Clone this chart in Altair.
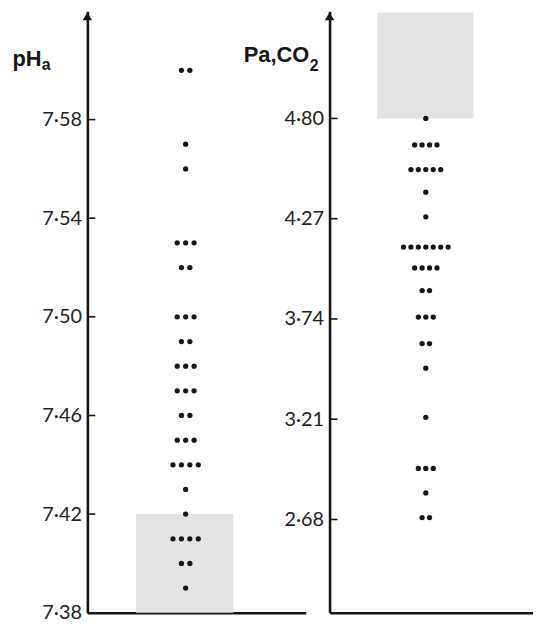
import altair as alt
import pandas as pd

# --- data ---
ph_values = [7.60, 7.57, 7.56, 7.53, 7.52, 7.50, 7.49, 7.48, 7.47, 7.46, 7.45, 7.44, 7.43, 7.42, 7.41, 7.40, 7.39]
ph_counts = [2, 1, 1, 3, 2, 3, 2, 3, 3, 2, 3, 4, 1, 1, 4, 2, 1]
co2_values = [4.80, 4.66, 4.53, 4.41, 4.28, 4.12, 4.01, 3.89, 3.75, 3.61, 3.48, 3.22, 2.95, 2.82, 2.69]
co2_counts = [1, 4, 5, 1, 1, 7, 4, 2, 3, 2, 1, 1, 3, 1, 2]
ph_ticks = [7.38, 7.42, 7.46, 7.50, 7.54, 7.58]
co2_ticks = [2.68, 3.21, 3.74, 4.27, 4.80]
ph_band = [7.38, 7.42]      # shaded normal range
co2_band = [4.80, 5.36]

INK = "#161616"
LABEL_EXPR = "replace(format(datum.value, '.2f'), '.', '·')"
TITLE_FONT = "Liberation Sans"


def dots(values, counts):
    rows = []
    for v, n in zip(values, counts):
        for i in range(n):
            rows.append({"v": v, "off": i - (n - 1) / 2})
    return pd.DataFrame(rows)


def panel(values, counts, ticks, band, band_x, ydom, xdom, width,
          title, tx, ty, sub, sx, sy):
    ys = alt.Scale(domain=ydom, nice=False, zero=False)
    xs = alt.Scale(domain=xdom, nice=False, zero=False)
    yaxis = alt.Axis(
        values=ticks, labelExpr=LABEL_EXPR, ticks=False, grid=False,
        domainColor=INK, domainWidth=2.6, labelFont="Lato", labelFontSize=20,
        labelColor="#222", labelPadding=6, title=title, titleAngle=0,
        titleAlign="left", titleBaseline="alphabetic", titleX=tx, titleY=ty,
        titleFont=TITLE_FONT, titleFontSize=22, titleFontWeight="bold",
        titleColor=INK,
    )
    xaxis = alt.Axis(labels=False, ticks=False, grid=False, title=None,
                     domainColor=INK, domainWidth=2.6)
    band_df = pd.DataFrame({"x1": [band_x[0]], "x2": [band_x[1]],
                            "y1": [band[0]], "y2": [band[1]]})
    shade = alt.Chart(band_df).mark_rect(color="#e3e3e3").encode(
        x=alt.X("x1:Q", scale=xs, axis=xaxis), x2="x2:Q",
        y=alt.Y("y1:Q", scale=ys, axis=yaxis), y2="y2:Q",
    )
    pts = alt.Chart(dots(values, counts)).mark_circle(size=28, color=INK, opacity=1).encode(
        x=alt.X("off:Q", scale=xs, axis=xaxis),
        y=alt.Y("v:Q", scale=ys, axis=yaxis),
    )
    tk = alt.Chart(pd.DataFrame({"t": ticks})).mark_rule(color=INK, strokeWidth=1.6).encode(
        y=alt.Y("t:Q", scale=ys, axis=yaxis), x=alt.value(0), x2=alt.value(8),
    )
    arrow = alt.Chart(pd.DataFrame({"a": [0]})).mark_point(
        shape="triangle-up", filled=True, size=90, color=INK, opacity=1
    ).encode(x=alt.value(0), y=alt.value(5))
    subscript = alt.Chart(pd.DataFrame({"s": [sub]})).mark_text(
        font=TITLE_FONT, fontSize=16, fontWeight="bold", color=INK,
        align="left", baseline="alphabetic"
    ).encode(text="s:N", x=alt.value(sx), y=alt.value(sy))
    return alt.layer(shade, pts, tk, arrow, subscript).properties(width=width, height=606)


left = panel(ph_values, ph_counts, ph_ticks, ph_band, [-5.88, 5.65],
             [7.38, 7.6239], [-11.65, 14.24], 220,
             "pH", -76, 55, "a", -46, 59)
right = panel(co2_values, co2_counts, co2_ticks, co2_band, [-6.53, 6.4],
              [2.1868, 5.3663], [-12.93, 14.4], 205,
              "Pa,CO", -87, 51, "2", -20, 60)

chart = alt.hconcat(left, right, spacing=24, bounds="flush").properties(
    padding={"left": 4, "top": 1, "right": 0, "bottom": 2}
).configure_view(stroke=None)

chart.save("out.html", embed_options={"renderer": "svg", "actions": False})
